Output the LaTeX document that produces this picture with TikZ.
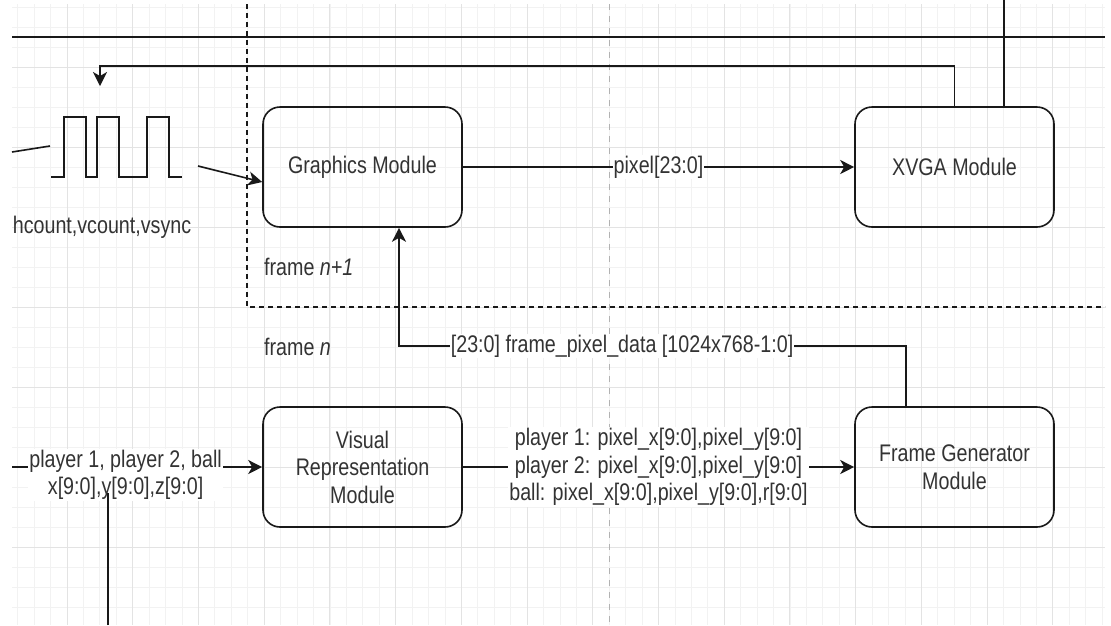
\documentclass[tikz,border=0pt]{standalone}
\usepackage{fontspec}
\setmainfont{Liberation Sans}[FakeStretch=0.82]
\usetikzlibrary{arrows.meta,positioning}
\tikzset{
  gridminor/.style={draw=black!5, line width=0.8pt},
  gridmajor/.style={draw=black!11, line width=1pt},
  wire/.style={draw=black!90, line width=1.6pt},
  sig/.style={wire, -{Stealth[length=14pt,width=14pt,inset=4pt]}},
  framesep/.style={draw=black!90, line width=1.3pt, dash pattern=on 5pt off 4pt},
  module/.style={draw=black!90, line width=1.6pt, rounded corners=17pt,
    minimum width=199pt, minimum height=120pt, align=center,
    text=black!80, font=\fontsize{24}{27.5}\selectfont},
  lbl/.style={fill=white, inner sep=1pt, align=center,
    text=black!80, font=\fontsize{24}{27.5}\selectfont},
}

\begin{document}
\begin{tikzpicture}[x=1pt,y=-1pt]
	\useasboundingbox[fill=white] (0,0) rectangle (1111,625);
	
	%%%%% grid %%%%%
	\foreach \i in {1,...,67}
		\draw[gridminor] ({1.3+16.43*\i},4) -- ({1.3+16.43*\i},625);
	\foreach \j in {0,...,30}
		\draw[gridminor] (12,{7+20*\j}) -- (1105,{7+20*\j});
	\foreach \i in {1,...,16}
		\draw[gridmajor] ({1.3+65.72*\i},4) -- ({1.3+65.72*\i},625);
	\foreach \j in {0,...,7}
		\draw[gridmajor] (12,{67+80*\j}) -- (1105,{67+80*\j});
	\draw[black!30, line width=1pt, dash pattern=on 6pt off 6pt] (609,4) -- (609,625);
	
	%%%%% frames %%%%%
	\draw[wire] (12,37) -- (1105,37);
	\draw[framesep] (247,4) -- (247,307) -- (1105,307);
	\node[lbl, fill=none, anchor=west] (fnext) at (263,267) {frame \textit{n+1}};
	\node[lbl, fill=none, anchor=west] (fcur) at (263,347) {frame \textit{n}};
	
	%%%%% modules %%%%%
	\node[module] (gfx) at (362.5,167) {Graphics Module};
	\node[module] (xvga) at (954.5,167) {XVGA Module};
	\node[module] (vis) at (362.5,467) {Visual\\Representation\\Module};
	\node[module] (fgen) at (954.5,467) {Frame Generator\\Module};
	
	%%%%% timing %%%%%
	\draw[wire] (51,177) -- (64,177) -- (64,117) -- (86,117) -- (86,177) -- (97,177)
		-- (97,117) -- (119,117) -- (119,177) -- (147,177) -- (147,117) -- (169,117)
		-- (169,177) -- (182,177);
	\draw[wire] (12,152) -- (50,146);
	\node[lbl, fill=none] (cnt) at (102,227) {hcount,vcount,vsync};
	\coordinate (wavein) at (100,86);
	\coordinate (waveout) at (198,166);
	\draw[sig] (waveout) -- ([yshift=-15pt]gfx.west);
	
	%%%%% connections %%%%%
	\draw[sig] (gfx) -- node[lbl] (pix) {pixel[23:0]} (xvga);
	\draw[sig] (xvga.north) -- ++(0,-40) -| (wavein);
	\draw[wire] ([xshift=49.5pt]xvga.north) -- ++(0,-107);
	\draw[sig] ([xshift=-48.5pt]fgen.north) -- ++(0,-60)
		-| node[lbl, pos=0.28] (fpd) {[23:0] frame\_pixel\_data [1024x768-1:0]}
		([xshift=36.5pt]gfx.south);
	\draw[sig] (vis) -- node[lbl] (plab) {player 1: pixel\_x[9:0],pixel\_y[9:0]\\
		player 2: pixel\_x[9:0],pixel\_y[9:0]\\
		ball: pixel\_x[9:0],pixel\_y[9:0],r[9:0]} (fgen);
	\coordinate (pin) at (12,467);
	\draw[sig] (pin) -- node[lbl, pos=0.454, yshift=-8pt] (plin)
		{player 1, player 2, ball\\x[9:0],y[9:0],z[9:0]} (vis.west);
	\coordinate (zin) at (108,625);
	\draw[wire] (zin) -- ++(0,-132);
\end{tikzpicture}
\end{document}
